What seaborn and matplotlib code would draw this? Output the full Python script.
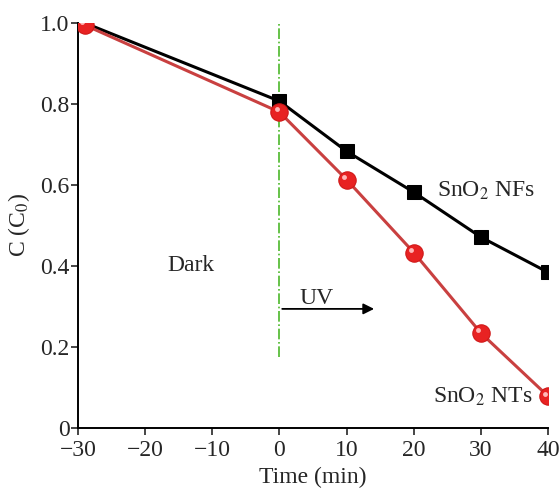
import numpy as np
import pandas as pd
import matplotlib
matplotlib.use('Agg')
import matplotlib.pyplot as plt
import seaborn as sb

# data
time_min = [-29, 0, 10, 20, 30, 40]
nfs_c = [1.0, 0.807, 0.683, 0.582, 0.471, 0.384]
nts_c = [0.995, 0.78, 0.613, 0.433, 0.234, 0.078]

sb.set_style('ticks')
plt.rcParams['font.family'] = ['Liberation Serif', 'DejaVu Serif']
plt.rcParams['mathtext.fontset'] = 'stix'
fs = 17

df = pd.DataFrame({'time': time_min, 'NFs': nfs_c, 'NTs': nts_c})

fig = plt.figure(figsize=(5.6, 4.88), dpi=100)
ax = fig.add_axes([0.139, 0.123, 0.840, 0.830])

sb.lineplot(data=df, x='time', y='NFs', ax=ax, color='black', lw=2.2,
            marker='s', markersize=9.5, markeredgecolor='black', zorder=3)
sb.lineplot(data=df, x='time', y='NTs', ax=ax, color='#c94040', lw=2.2,
            marker='o', markersize=12.5, markerfacecolor='#e82222',
            markeredgecolor='#d01818', markeredgewidth=0.8, zorder=4)
# little highlight on the spheres
ax.plot(df['time'], df['NTs'], ls='none', marker='o', markersize=3.5,
        markerfacecolor='#ffb8b8', markeredgewidth=0, zorder=5,
        transform=ax.transData + matplotlib.transforms.ScaledTranslation(-2/72, 2/72, fig.dpi_scale_trans))

# dark / UV divider
ax.plot([0, 0], [0.175, 1.005], color='#4cb82a', lw=1.2, ls='-.', zorder=2)
ax.annotate('', xy=(14.5, 0.294), xytext=(0, 0.294),
            arrowprops=dict(arrowstyle='-|>', color='black', lw=1.3, mutation_scale=16))
ax.text(3.0, 0.305, 'UV', fontsize=fs)
ax.text(-13.2, 0.40, 'Dark', fontsize=fs, ha='center', va='center')
ax.text(23.5, 0.585, 'SnO$_2$ NFs', fontsize=fs, va='center')
ax.text(37.6, 0.078, 'SnO$_2$ NTs', fontsize=fs, va='center', ha='right')

ax.set_xlim(-30, 40)
ax.set_ylim(0, 1.0)
ax.set_xticks([-30, -20, -10, 0, 10, 20, 30, 40])
ax.set_yticks([0, 0.2, 0.4, 0.6, 0.8, 1.0])
ax.set_yticklabels(['0', '0.2', '0.4', '0.6', '0.8', '1.0'])
ax.set_xlabel('Time (min)', fontsize=fs, labelpad=4)
ax.set_ylabel('C (C$_0$)', fontsize=fs, labelpad=6)
ax.tick_params(direction='out', length=5, width=1.2, labelsize=fs)
ax.tick_params(axis='y', pad=1)
ax.tick_params(axis='x', pad=4)
sb.despine(ax=ax)
for s in ['left', 'bottom']:
    ax.spines[s].set_linewidth(1.4)
    ax.spines[s].set_color('black')
ax.patch.set_alpha(0)

fig.savefig('out.png', dpi=100)
